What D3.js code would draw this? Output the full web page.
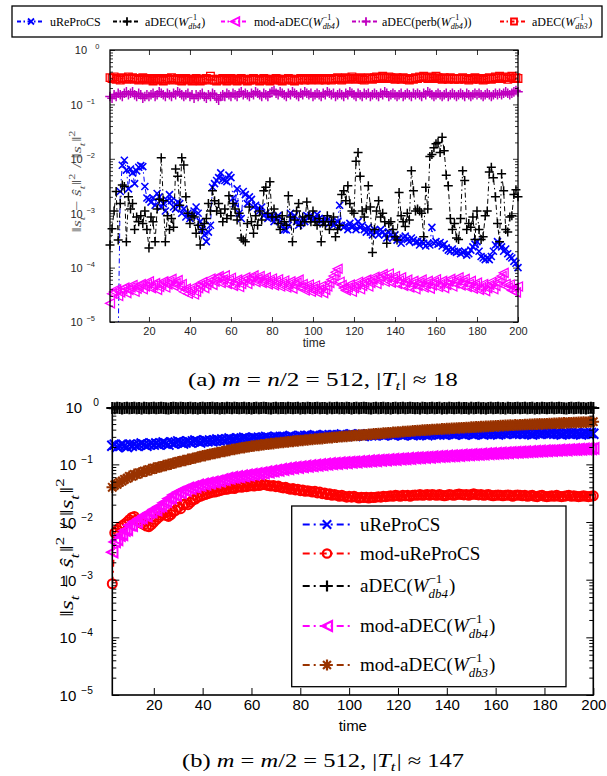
<!DOCTYPE html>
<html><head><meta charset="utf-8">
<script src="https://cdn.jsdelivr.net/npm/d3@7"></script>
<style>body{margin:0;background:#fff}svg{display:block}text{white-space:pre}</style>
</head><body>
<svg id="chart" width="607" height="776"></svg>
<script>
// ---------------- DATA ----------------
const timeA = d3.range(1, 201);          // panel (a): t = 1..200
const timeB = d3.range(3, 201);          // panel (b): t = 3..200
const xTickValues = [20,40,60,80,100,120,140,160,180,200];
const yMajorExps = [0,-1,-2,-3,-4,-5];

// panel (a)
const a_uReProCS = [null,null,null,null,5e-6,2.5e-3,7.6e-3,9.4e-3,6.2e-3,2.8e-3,
6.5e-3,5.5e-3,3.5e-3,6.0e-3,7.0e-3,7.5e-3,7.2e-3,3.1e-3,1.9e-3,1.8e-3,
1.6e-3,1.9e-3,1.4e-3,2.3e-3,2.0e-3,1.3e-3,1.5e-3,1.1e-3,1.7e-3,2.2e-3,
1.7e-3,1.3e-3,1.2e-3,1.6e-3,1.5e-3,1.0e-3,1.2e-3,8.5e-4,1.0e-3,8.0e-4,
9.0e-4,1.1e-3,1.3e-3,1.0e-3,7.0e-4,5.0e-4,4.0e-4,3.0e-4,4.5e-4,6.0e-4,
3.0e-3,3.5e-3,4.0e-3,4.5e-3,5.5e-3,4.2e-3,4.0e-3,3.8e-3,5.0e-3,4.5e-3,
1.9e-3,1.5e-3,2.8e-3,1.0e-3,8.0e-4,2.5e-3,2.2e-3,1.5e-3,2.0e-3,1.8e-3,
1.3e-3,1.4e-3,1.2e-3,1.1e-3,1.3e-3,9.0e-4,1.0e-3,8.0e-4,9.0e-4,8.5e-4,
7.0e-4,8.0e-4,9.0e-4,7.0e-4,6.0e-4,5.0e-4,4.9e-4,6.0e-4,1.0e-3,8.0e-4,
9.0e-4,7.0e-4,6.0e-4,6.5e-4,8.0e-4,7.0e-4,9.0e-4,8.5e-4,9.0e-4,7.5e-4,
8.0e-4,9.5e-4,8.0e-4,7.0e-4,6.5e-4,8.0e-4,7.5e-4,6.5e-4,7.0e-4,6.0e-4,
6.5e-4,7.0e-4,1.4e-3,6.0e-4,5.5e-4,6.0e-4,5.0e-4,6.5e-4,5.5e-4,6.0e-4,
5.0e-4,7.0e-4,5.5e-4,6.0e-4,5.0e-4,4.5e-4,5.5e-4,4.5e-4,4.0e-4,5.0e-4,
4.5e-4,4.0e-4,5.0e-4,4.5e-4,4.0e-4,3.5e-4,4.5e-4,4.0e-4,3.5e-4,4.0e-4,
3.2e-4,3.5e-4,2.8e-4,3.5e-4,3.8e-4,3.3e-4,3.0e-4,3.5e-4,3.2e-4,2.9e-4,
3.0e-4,2.6e-4,3.0e-4,2.8e-4,2.5e-4,2.8e-4,2.6e-4,5.5e-4,2.8e-4,3.0e-4,
2.7e-4,2.9e-4,2.5e-4,2.7e-4,2.3e-4,2.1e-4,2.0e-4,2.2e-4,2.0e-4,1.9e-4,
2.0e-4,1.8e-4,1.9e-4,2.0e-4,1.7e-4,1.8e-4,2.1e-4,2.4e-4,2.7e-4,3.0e-4,
2.0e-4,1.6e-4,1.5e-4,1.4e-4,1.5e-4,1.4e-4,1.6e-4,2.0e-4,2.6e-4,3.0e-4,
2.6e-4,2.4e-4,2.0e-4,2.2e-4,1.8e-4,1.6e-4,1.5e-4,1.3e-4,1.2e-4,1.0e-4];

const a_aDEC_db4 = [2.6e-4,5.2e-4,1.1e-3,2.5e-3,3.2e-4,1.5e-3,3.3e-3,3.1e-3,3.0e-4,2.0e-3,
1.2e-3,1.5e-3,5.0e-4,8.5e-4,7.0e-4,9.0e-4,6.5e-4,1.1e-3,5.0e-4,2.3e-4,
8.5e-4,7.0e-4,3.0e-4,1.2e-3,1.8e-3,1.05e-2,1.7e-3,3.0e-4,9.0e-4,5.0e-4,
8.0e-4,5.5e-4,6.5e-3,4.8e-3,1.4e-3,1.05e-2,7.7e-3,2.0e-3,1.0e-3,6.5e-4,
9.0e-4,8.5e-4,4.3e-4,6.0e-4,2.6e-4,5.0e-4,6.5e-4,8.0e-4,1.5e-3,1.1e-3,
2.6e-3,1.7e-3,1.1e-3,1.5e-3,1.0e-3,7.0e-4,1.2e-3,8.0e-4,2.1e-3,9.0e-4,
1.5e-3,1.2e-3,7.5e-4,1.0e-3,3.5e-4,3.2e-4,3.0e-4,6.5e-4,1.3e-3,7.0e-4,
4.3e-4,9.0e-4,6.0e-4,1.1e-3,7.5e-4,2.6e-3,3.0e-3,1.0e-3,3.8e-3,8.5e-4,
1.2e-3,8.5e-4,6.5e-4,5.0e-4,9.0e-4,7.0e-4,6.0e-4,2.1e-3,8.5e-4,3.0e-4,
7.5e-4,1.1e-3,1.5e-3,6.0e-4,8.5e-4,7.0e-4,1.6e-3,9.0e-4,7.0e-4,1.1e-3,
7.0e-4,6.0e-4,8.0e-4,3.0e-4,7.0e-4,6.0e-4,9.0e-4,5.0e-4,7.0e-4,8.5e-4,
3.7e-4,5.0e-4,6.0e-4,2.2e-3,2.6e-3,1.7e-3,3.2e-3,1.5e-3,1.1e-3,1.0e-3,
9.0e-3,1.3e-2,4.8e-3,1.1e-3,8.5e-4,1.2e-3,3.2e-3,1.3e-3,1.9e-4,5.0e-4,
1.1e-3,1.7e-3,8.5e-4,1.0e-3,7.0e-4,2.8e-4,6.5e-4,7.0e-4,5.0e-4,3.7e-4,
3.2e-4,2.4e-3,9.0e-4,7.0e-4,5.7e-4,1.0e-3,7.5e-4,6.0e-3,2.6e-3,1.1e-3,
1.2e-3,1.1e-3,1.0e-3,3.7e-4,3.0e-3,1.2e-3,1.1e-2,1.2e-2,1.6e-2,1.9e-2,
2.0e-2,1.3e-2,2.5e-2,1.4e-2,5.0e-3,3.2e-3,8.0e-4,5.0e-4,6.5e-4,3.5e-4,
3.3e-4,8.0e-4,6.0e-3,4.0e-3,5.0e-4,6.5e-4,5.5e-4,8.5e-4,3.3e-4,1.1e-3,
5.0e-4,3.3e-4,3.7e-4,9.0e-4,1.1e-3,5.7e-3,7.0e-3,4.5e-3,2.0e-3,6.5e-4,
3.0e-4,5.3e-3,2.6e-3,5.0e-4,4.5e-4,8.5e-4,9.0e-4,2.2e-3,2.7e-3,2.0e-3];

const a_mod_aDEC_db4 = [2.2e-5,3.3e-5,3.6e-5,4.0e-5,3.0e-5,3.5e-5,4.0e-5,4.3e-5,3.4e-5,3.9e-5,
4.3e-5,4.8e-5,3.6e-5,4.1e-5,4.6e-5,5.0e-5,4.0e-5,4.5e-5,5.0e-5,5.6e-5,
4.2e-5,4.7e-5,5.2e-5,3.9e-5,4.4e-5,5.0e-5,5.6e-5,4.3e-5,4.9e-5,5.5e-5,
6.2e-5,4.6e-5,5.2e-5,5.9e-5,4.5e-5,5.0e-5,3.6e-5,4.1e-5,3.3e-5,3.8e-5,
4.3e-5,3.2e-5,3.6e-5,4.2e-5,4.8e-5,5.4e-5,4.2e-5,4.8e-5,5.5e-5,6.3e-5,
4.8e-5,5.5e-5,6.4e-5,7.0e-5,5.2e-5,6.0e-5,7.2e-5,5.0e-5,5.8e-5,6.5e-5,
4.6e-5,5.3e-5,6.0e-5,4.4e-5,5.0e-5,5.8e-5,6.6e-5,5.0e-5,5.7e-5,6.5e-5,
7.2e-5,5.4e-5,6.2e-5,7.0e-5,5.2e-5,5.9e-5,6.6e-5,4.9e-5,5.6e-5,6.3e-5,
4.7e-5,5.4e-5,6.1e-5,4.5e-5,5.1e-5,5.8e-5,4.3e-5,4.9e-5,5.6e-5,4.1e-5,
4.7e-5,5.3e-5,6.0e-5,4.4e-5,5.0e-5,3.8e-5,4.3e-5,4.9e-5,3.6e-5,4.1e-5,
4.7e-5,3.5e-5,4.0e-5,4.6e-5,3.4e-5,3.9e-5,4.5e-5,5.2e-5,6.0e-5,7.0e-5,
8.2e-5,9.5e-5,5.5e-5,4.8e-5,4.2e-5,3.8e-5,4.3e-5,4.9e-5,3.6e-5,4.2e-5,
4.8e-5,5.5e-5,4.0e-5,4.6e-5,5.3e-5,6.0e-5,4.5e-5,5.2e-5,6.0e-5,6.8e-5,
5.0e-5,5.8e-5,6.7e-5,7.6e-5,5.5e-5,6.5e-5,7.8e-5,5.3e-5,6.2e-5,7.0e-5,
5.0e-5,5.8e-5,6.6e-5,4.6e-5,5.3e-5,6.0e-5,4.3e-5,5.0e-5,5.7e-5,4.0e-5,
4.6e-5,5.3e-5,6.0e-5,4.3e-5,5.0e-5,5.7e-5,4.1e-5,4.7e-5,5.4e-5,6.1e-5,
4.4e-5,5.0e-5,5.7e-5,4.2e-5,4.8e-5,5.5e-5,6.2e-5,4.5e-5,5.1e-5,5.8e-5,
6.6e-5,4.7e-5,5.4e-5,6.2e-5,4.4e-5,5.0e-5,5.7e-5,4.1e-5,4.7e-5,5.3e-5,
3.9e-5,4.4e-5,5.0e-5,3.7e-5,4.2e-5,4.8e-5,5.5e-5,4.0e-5,4.6e-5,5.3e-5,
6.1e-5,7.0e-5,8.0e-5,5.0e-5,4.3e-5,4.9e-5,3.8e-5,4.3e-5,3.5e-5,4.5e-5];

const a_aDEC_perb = [0.14,0.13,0.15,0.14,0.16,0.15,0.14,0.16,0.17,0.15,
0.16,0.17,0.15,0.14,0.16,0.15,0.13,0.14,0.15,0.14,
0.15,0.16,0.14,0.15,0.17,0.16,0.15,0.14,0.16,0.15,
0.14,0.16,0.15,0.17,0.16,0.15,0.14,0.15,0.16,0.14,
0.15,0.13,0.15,0.14,0.15,0.16,0.14,0.13,0.15,0.14,
0.16,0.15,0.13,0.12,0.14,0.15,0.14,0.16,0.15,0.14,
0.16,0.15,0.14,0.16,0.17,0.15,0.16,0.15,0.14,0.16,
0.15,0.17,0.16,0.15,0.14,0.16,0.15,0.14,0.16,0.17,
0.18,0.16,0.15,0.17,0.16,0.15,0.14,0.16,0.15,0.17,
0.16,0.15,0.14,0.16,0.15,0.17,0.16,0.15,0.16,0.14,
0.15,0.16,0.15,0.14,0.16,0.15,0.17,0.16,0.15,0.16,
0.14,0.15,0.16,0.15,0.14,0.16,0.15,0.17,0.16,0.15,
0.14,0.16,0.15,0.14,0.16,0.15,0.16,0.14,0.15,0.16,
0.15,0.14,0.16,0.15,0.17,0.16,0.14,0.15,0.16,0.15,
0.14,0.15,0.16,0.14,0.15,0.16,0.15,0.14,0.16,0.15,
0.16,0.15,0.14,0.16,0.15,0.17,0.16,0.15,0.14,0.15,
0.16,0.15,0.14,0.15,0.16,0.14,0.15,0.16,0.15,0.14,
0.15,0.16,0.15,0.14,0.16,0.15,0.14,0.15,0.16,0.15,
0.16,0.15,0.14,0.15,0.16,0.15,0.14,0.15,0.16,0.15,
0.16,0.15,0.16,0.17,0.16,0.15,0.16,0.17,0.18,0.17];

const a_aDEC_db3 = [0.31,0.30,0.32,0.29,0.30,0.28,0.31,0.30,0.29,0.32,
0.30,0.31,0.29,0.30,0.28,0.29,0.31,0.30,0.28,0.29,
0.30,0.27,0.29,0.28,0.30,0.29,0.27,0.28,0.30,0.29,
0.31,0.28,0.29,0.30,0.28,0.27,0.29,0.30,0.28,0.29,
0.27,0.28,0.30,0.29,0.27,0.28,0.29,0.30,0.28,0.33,
0.29,0.28,0.27,0.29,0.28,0.30,0.29,0.27,0.28,0.30,
0.29,0.28,0.27,0.29,0.30,0.28,0.29,0.27,0.28,0.29,
0.30,0.28,0.29,0.27,0.28,0.30,0.29,0.28,0.27,0.29,
0.28,0.30,0.29,0.28,0.27,0.29,0.28,0.30,0.29,0.28,
0.27,0.29,0.28,0.30,0.29,0.28,0.30,0.29,0.28,0.29,
0.30,0.29,0.28,0.30,0.29,0.28,0.29,0.30,0.28,0.29,
0.30,0.31,0.29,0.28,0.30,0.31,0.29,0.30,0.32,0.30,
0.29,0.30,0.31,0.29,0.28,0.30,0.31,0.30,0.29,0.31,
0.32,0.30,0.31,0.33,0.31,0.30,0.32,0.31,0.30,0.29,
0.31,0.30,0.29,0.31,0.30,0.29,0.28,0.30,0.29,0.31,
0.30,0.32,0.31,0.33,0.31,0.30,0.31,0.32,0.30,0.33,
0.31,0.30,0.29,0.31,0.30,0.29,0.31,0.30,0.29,0.30,
0.29,0.30,0.31,0.29,0.30,0.28,0.30,0.29,0.31,0.30,
0.29,0.30,0.28,0.29,0.30,0.31,0.29,0.30,0.32,0.31,
0.33,0.30,0.31,0.32,0.29,0.31,0.33,0.30,0.31,0.30];

// panel (b)
const b_uReProCS = [0.21,0.22,0.20,0.21,0.22,0.21,0.20,0.22,0.21,0.22,
0.21,0.22,0.23,0.22,0.21,0.22,0.23,0.22,0.23,0.22,
0.23,0.24,0.23,0.22,0.24,0.23,0.24,0.25,0.24,0.23,
0.24,0.25,0.24,0.25,0.26,0.25,0.24,0.25,0.26,0.25,
0.26,0.25,0.26,0.27,0.26,0.27,0.26,0.27,0.28,0.27,
0.27,0.28,0.27,0.28,0.29,0.28,0.27,0.28,0.29,0.28,
0.29,0.28,0.29,0.30,0.29,0.28,0.29,0.30,0.29,0.30,
0.30,0.29,0.30,0.31,0.30,0.29,0.30,0.31,0.30,0.31,
0.31,0.30,0.31,0.32,0.31,0.30,0.31,0.32,0.31,0.32,
0.31,0.32,0.31,0.32,0.33,0.32,0.31,0.32,0.33,0.32,
0.32,0.33,0.32,0.31,0.32,0.33,0.32,0.33,0.32,0.33,
0.33,0.32,0.33,0.34,0.33,0.32,0.33,0.34,0.33,0.32,
0.33,0.34,0.33,0.32,0.33,0.34,0.33,0.34,0.33,0.32,
0.33,0.34,0.35,0.34,0.33,0.34,0.33,0.34,0.35,0.34,
0.33,0.34,0.35,0.34,0.33,0.34,0.35,0.34,0.33,0.34,
0.35,0.34,0.33,0.34,0.35,0.34,0.35,0.34,0.33,0.34,
0.35,0.34,0.35,0.36,0.35,0.34,0.35,0.34,0.35,0.34,
0.35,0.34,0.33,0.34,0.35,0.34,0.35,0.36,0.35,0.34,
0.35,0.34,0.35,0.34,0.33,0.34,0.35,0.34,0.35,0.34,
0.35,0.34,0.33,0.34,0.35,0.34,0.35,0.34];

const b_mod_uReProCS = [0.00085,0.0065,0.0072,0.0080,0.0086,0.0092,0.0100,0.0110,0.0120,0.0125,
0.0110,0.0100,0.0095,0.0090,0.0085,0.0083,0.0090,0.0100,0.0110,0.0120,
0.0130,0.0140,0.0130,0.0125,0.0135,0.0150,0.0160,0.0180,0.0170,0.0200,
0.0210,0.0200,0.0220,0.0240,0.0250,0.0270,0.0280,0.0290,0.0300,0.0310,
0.0320,0.0330,0.0330,0.0340,0.0350,0.0360,0.0370,0.0370,0.0380,0.0390,
0.0380,0.0400,0.0410,0.0400,0.0420,0.0410,0.0420,0.0430,0.0420,0.0440,
0.0430,0.0440,0.0450,0.0440,0.0430,0.0420,0.0430,0.0410,0.0420,0.0400,
0.0390,0.0400,0.0380,0.0370,0.0380,0.0360,0.0370,0.0350,0.0360,0.0340,
0.0350,0.0340,0.0330,0.0340,0.0320,0.0330,0.0310,0.0320,0.0300,0.0310,
0.0290,0.0300,0.0290,0.0280,0.0290,0.0280,0.0270,0.0280,0.0270,0.0280,
0.0270,0.0260,0.0270,0.0265,0.0270,0.0260,0.0270,0.0265,0.0270,0.0275,
0.0270,0.0280,0.0275,0.0280,0.0285,0.0280,0.0290,0.0285,0.0280,0.0290,
0.0285,0.0290,0.0280,0.0290,0.0295,0.0290,0.0300,0.0290,0.0295,0.0300,
0.0290,0.0300,0.0295,0.0290,0.0300,0.0290,0.0285,0.0290,0.0300,0.0295,
0.0290,0.0300,0.0305,0.0300,0.0295,0.0300,0.0290,0.0300,0.0310,0.0300,
0.0295,0.0300,0.0290,0.0295,0.0300,0.0290,0.0285,0.0290,0.0295,0.0290,
0.0285,0.0290,0.0295,0.0290,0.0280,0.0290,0.0295,0.0290,0.0285,0.0290,
0.0280,0.0285,0.0290,0.0280,0.0275,0.0285,0.0290,0.0280,0.0275,0.0280,
0.0285,0.0280,0.0290,0.0280,0.0275,0.0280,0.0285,0.0290,0.0280,0.0285,
0.0280,0.0275,0.0280,0.0285,0.0280,0.0275,0.0280,0.0285];

const b_aDEC_db4 = [0.95,0.94,0.96,0.95,0.93,0.95,0.96,0.94,0.95,0.96,
0.94,0.95,0.93,0.96,0.95,0.94,0.95,0.96,0.94,0.95,
0.96,0.95,0.94,0.93,0.95,0.96,0.95,0.94,0.96,0.95,
0.94,0.95,0.96,0.94,0.95,0.93,0.95,0.96,0.94,0.95,
0.95,0.96,0.94,0.95,0.93,0.95,0.94,0.96,0.95,0.94,
0.96,0.95,0.94,0.95,0.96,0.94,0.95,0.93,0.95,0.96,
0.94,0.95,0.96,0.95,0.94,0.93,0.95,0.96,0.94,0.95,
0.95,0.94,0.96,0.95,0.94,0.95,0.96,0.93,0.95,0.94,
0.96,0.95,0.94,0.95,0.96,0.94,0.95,0.95,0.93,0.96,
0.94,0.95,0.96,0.94,0.95,0.94,0.96,0.95,0.93,0.95,
0.96,0.94,0.95,0.96,0.95,0.94,0.93,0.95,0.96,0.94,
0.95,0.96,0.94,0.95,0.93,0.95,0.96,0.94,0.95,0.96,
0.94,0.95,0.96,0.95,0.94,0.95,0.93,0.96,0.95,0.94,
0.95,0.96,0.94,0.95,0.96,0.93,0.95,0.94,0.96,0.95,
0.94,0.95,0.96,0.94,0.95,0.95,0.93,0.96,0.94,0.95,
0.96,0.94,0.95,0.93,0.95,0.96,0.94,0.95,0.96,0.94,
0.95,0.93,0.96,0.95,0.94,0.95,0.96,0.94,0.95,0.96,
0.94,0.95,0.96,0.93,0.95,0.94,0.96,0.95,0.94,0.95,
0.96,0.94,0.95,0.96,0.95,0.94,0.93,0.95,0.96,0.94,
0.95,0.96,0.94,0.95,0.93,0.95,0.96,0.95];

const b_mod_aDEC_db4 = [0.0030,0.0045,0.0049,0.0058,0.0060,0.0071,0.0073,0.0088,0.0086,0.0102,
0.0098,0.0115,0.0118,0.0130,0.0126,0.0145,0.0148,0.0165,0.0160,0.0185,
0.0190,0.0215,0.0225,0.0255,0.0262,0.0295,0.0290,0.0330,0.0320,0.0360,
0.0350,0.0390,0.0380,0.0410,0.0400,0.0440,0.0430,0.0460,0.0450,0.0480,
0.0470,0.0500,0.0490,0.0520,0.0510,0.0550,0.0540,0.0580,0.0570,0.0600,
0.0590,0.0620,0.0605,0.0640,0.0625,0.0660,0.0645,0.0680,0.0665,0.0700,
0.0685,0.0720,0.0705,0.0750,0.0730,0.0770,0.0760,0.0800,0.0785,0.0830,
0.0810,0.0850,0.0835,0.0880,0.0860,0.0900,0.0880,0.0920,0.0900,0.0940,
0.0920,0.0960,0.0940,0.0980,0.0960,0.1000,0.0980,0.1020,0.1000,0.1040,
0.1020,0.1050,0.1030,0.1070,0.1050,0.1080,0.1060,0.1100,0.1080,0.1110,
0.1090,0.1130,0.1110,0.1140,0.1120,0.1160,0.1140,0.1170,0.1150,0.1190,
0.1170,0.1200,0.1180,0.1220,0.1200,0.1230,0.1210,0.1250,0.1230,0.1260,
0.1240,0.1280,0.1260,0.1300,0.1280,0.1310,0.1290,0.1330,0.1310,0.1340,
0.1320,0.1360,0.1340,0.1380,0.1360,0.1390,0.1370,0.1410,0.1390,0.1420,
0.1400,0.1440,0.1420,0.1460,0.1440,0.1470,0.1450,0.1490,0.1470,0.1500,
0.1480,0.1520,0.1500,0.1540,0.1520,0.1550,0.1530,0.1570,0.1550,0.1580,
0.1560,0.1600,0.1580,0.1620,0.1600,0.1630,0.1610,0.1650,0.1630,0.1660,
0.1640,0.1680,0.1660,0.1700,0.1680,0.1710,0.1690,0.1730,0.1710,0.1740,
0.1720,0.1760,0.1740,0.1780,0.1760,0.1790,0.1770,0.1810,0.1790,0.1820,
0.1800,0.1840,0.1820,0.1860,0.1840,0.1870,0.1850,0.1890];

const b_mod_aDEC_db3 = [0.040,0.044,0.045,0.049,0.051,0.055,0.057,0.062,0.062,0.067,
0.067,0.071,0.072,0.076,0.076,0.081,0.081,0.086,0.086,0.090,
0.091,0.095,0.096,0.100,0.101,0.105,0.107,0.111,0.112,0.117,
0.117,0.122,0.123,0.128,0.129,0.134,0.136,0.141,0.142,0.147,
0.149,0.153,0.155,0.160,0.161,0.167,0.168,0.173,0.175,0.181,
0.182,0.187,0.189,0.194,0.195,0.200,0.202,0.207,0.208,0.213,
0.213,0.218,0.219,0.223,0.224,0.229,0.229,0.234,0.235,0.239,
0.240,0.244,0.245,0.249,0.250,0.255,0.255,0.260,0.260,0.265,
0.265,0.270,0.270,0.275,0.275,0.280,0.280,0.285,0.286,0.290,
0.291,0.295,0.296,0.301,0.301,0.306,0.306,0.311,0.312,0.316,
0.317,0.321,0.322,0.327,0.327,0.332,0.333,0.338,0.338,0.343,
0.343,0.348,0.349,0.354,0.354,0.359,0.360,0.365,0.365,0.370,
0.371,0.376,0.376,0.381,0.382,0.387,0.387,0.392,0.392,0.397,
0.397,0.402,0.402,0.407,0.407,0.412,0.412,0.417,0.417,0.422,
0.422,0.427,0.427,0.432,0.432,0.437,0.437,0.442,0.442,0.447,
0.447,0.452,0.451,0.456,0.456,0.461,0.461,0.466,0.465,0.470,
0.470,0.475,0.474,0.479,0.478,0.483,0.482,0.487,0.486,0.491,
0.490,0.495,0.494,0.499,0.498,0.503,0.502,0.507,0.506,0.511,
0.510,0.516,0.514,0.520,0.518,0.524,0.522,0.528,0.526,0.532,
0.530,0.536,0.534,0.540,0.538,0.544,0.542,0.550];

// ---------------- DRAWING ----------------
const svg = d3.select("#chart");
const SERIF = "'Liberation Serif','DejaVu Serif',serif";
const SANS = "'Liberation Sans',Arial,sans-serif";
const nb = s => s.replace(/ /g, "\u00A0");

function markerPath(type, r) {
  switch (type) {
    case "x": return `M${-r},${-r}L${r},${r}M${-r},${r}L${r},${-r}`;
    case "+": return `M${-r},0H${r}M0,${-r}V${r}`;
    case "*": { const k = r*0.72; return `M${-r},0H${r}M0,${-r}V${r}M${-k},${-k}L${k},${k}M${-k},${k}L${k},${-k}`; }
    case "s": return `M${-r},${-r}H${r}V${r}H${-r}Z`;
    case "o": return `M${r},0A${r},${r} 0 1,1 ${-r},0A${r},${r} 0 1,1 ${r},0Z`;
    case "<": return `M${-r},0L${r},${-r}L${r},${r}Z`;
  }
}

// rich text: parts = [{t, i}, {sup, sub}]
function rich(parent, x, y, size, parts, fill, family, subOff) {
  const g = parent.append("g").attr("fill", fill || "#000").attr("font-family", family || SERIF);
  let cx = x;
  const so = subOff === undefined ? 0.3 : subOff;
  parts.forEach(p => {
    if (p.t !== undefined) {
      const e = g.append("text").attr("x", cx).attr("y", y).attr("font-size", size)
        .attr("font-style", p.i ? "italic" : "normal").text(nb(p.t));
      cx += e.node().getComputedTextLength();
    } else {
      let w = 0;
      if (p.sup !== undefined) {
        const e = g.append("text").attr("x", cx).attr("y", y - size*0.46).attr("font-size", size*0.68)
          .text(p.sup);
        w = Math.max(w, e.node().getComputedTextLength());
      }
      if (p.sub !== undefined) {
        const e = g.append("text").attr("x", cx).attr("y", y + size*so).attr("font-size", size*0.68)
          .attr("font-style", "italic").text(p.sub);
        w = Math.max(w, e.node().getComputedTextLength());
      }
      cx += w + size*0.05;
    }
  });
  return { g, width: cx - x };
}
function richCentered(parent, cx, y, size, parts, fill, family, target, subOff) {
  const r = rich(parent, 0, y, size, parts, fill, family, subOff);
  if (target) {
    r.g.attr("transform", `translate(${cx - target/2},0) scale(${target / r.width},1)`);
  } else {
    r.g.attr("transform", `translate(${cx - r.width/2},0)`);
  }
  return r;
}

const W = (sub) => [{t:"W", i:true}, {sup:"\u22121", sub:sub}];
const labelParts = {
  uReProCS: [{t:"uReProCS"}],
  modu: [{t:"mod-uReProCS"}],
  aDEC4: [{t:"aDEC("}, ...W("db4"), {t:")"}],
  mod4: [{t:"mod-aDEC("}, ...W("db4"), {t:")"}],
  perb: [{t:"aDEC(perb("}, ...W("db4"), {t:"))"}],
  aDEC3: [{t:"aDEC("}, ...W("db3"), {t:")"}],
  mod3: [{t:"mod-aDEC("}, ...W("db3"), {t:")"}]
};

function panel(p) {
  const g = svg.append("g");
  const x = d3.scaleLinear().domain(p.xDomain).range([p.left, p.right]);
  const y = d3.scaleLog().domain([1e-5, 1]).range([p.bottom, p.top]);
  const clipId = "clip-" + p.id;
  svg.append("defs").append("clipPath").attr("id", clipId).append("rect")
    .attr("x", p.left).attr("y", p.top).attr("width", p.right - p.left).attr("height", p.bottom - p.top);

  p.series.forEach(s => {
    const pts = p.time.map((t, i) => ({ t, v: s.values[i] })).filter(d => d.v != null);
    const line = d3.line().x(d => x(d.t)).y(d => y(d.v));
    g.append("path").datum(pts).attr("d", line).attr("fill", "none").attr("stroke", s.color)
      .attr("stroke-width", p.lw).attr("stroke-dasharray", p.dash).attr("clip-path", `url(#${clipId})`);
    const inR = pts.filter(d => d.v >= 1e-5 && d.v <= 1.05);
    g.append("g").selectAll("path").data(inR).enter().append("path")
      .attr("transform", d => `translate(${x(d.t)},${y(d.v)})`)
      .attr("d", markerPath(s.marker, s.r)).attr("fill", "none")
      .attr("stroke", s.color).attr("stroke-width", s.mw || p.mw);
  });

  // axes
  const ax = svg.append("g");
  const xb = ax.append("g").attr("transform", `translate(0,${p.bottom})`)
    .call(d3.axisBottom(x).tickValues(xTickValues).tickSizeInner(-p.tlMaj).tickSizeOuter(0).tickPadding(p.xPad));
  const xt = ax.append("g").attr("transform", `translate(0,${p.top})`)
    .call(d3.axisTop(x).tickValues(xTickValues).tickSizeInner(-p.tlMaj).tickSizeOuter(0).tickFormat(""));
  const yVals = [];
  yMajorExps.forEach(e => {
    yVals.push(Math.pow(10, e));
    if (e < 0) for (let m = 2; m <= 9; m++) yVals.push(m * Math.pow(10, e));
  });
  const isMajor = v => Math.abs(Math.log10(v) - Math.round(Math.log10(v))) < 1e-9;
  const yl = ax.append("g").attr("transform", `translate(${p.left},0)`)
    .call(d3.axisLeft(y).tickValues(yVals).tickSizeOuter(0).tickPadding(p.yPad).tickFormat(() => ""));
  const yr = ax.append("g").attr("transform", `translate(${p.right},0)`)
    .call(d3.axisRight(y).tickValues(yVals).tickSizeOuter(0).tickFormat(() => ""));
  yl.selectAll(".tick line").attr("x2", d => isMajor(d) ? p.tlMaj : p.tlMin);
  yr.selectAll(".tick line").attr("x2", d => isMajor(d) ? -p.tlMaj : -p.tlMin);
  [xb, xt, yl, yr].forEach(a => {
    a.select(".domain").remove();
    a.selectAll(".tick line").attr("stroke", "#000").attr("stroke-width", p.tw);
  });
  xb.attr("font-family", SANS).attr("font-size", p.fs);
  xb.selectAll(".tick text").attr("fill", p.tc);
  // y labels 10^k
  yl.selectAll(".tick").filter(d => isMajor(d)).each(function(d) {
    const e = Math.round(Math.log10(d));
    const txt = e === 0 ? "0" : "\u2212" + (-e);
    const r = rich(d3.select(this), 0, 0, p.fs, [{t:"10"}, {sup: txt}], p.tc, SANS);
    r.g.attr("transform", `translate(${-p.yPad - r.width},${p.fs*0.36})`);
  });
  ax.append("rect").attr("x", p.left).attr("y", p.top).attr("width", p.right - p.left)
    .attr("height", p.bottom - p.top).attr("fill", "none").attr("stroke", "#000").attr("stroke-width", p.aw);

  // x label
  svg.append("text").attr("x", (p.left + p.right)/2).attr("y", p.xlabY).attr("text-anchor", "middle")
    .attr("font-family", SANS).attr("font-size", p.xlfs).attr("fill", p.tc).text("time");
  // y label (rotated)
  const yg = svg.append("g").attr("transform", `translate(${p.ylabX},${p.ylabY}) rotate(-90)`);
  const ylab = [{t:"\u2016"}, {t:"s", i:true}, {sub:"t"}, {t:" \u2212 "}, {t:"\u015D", i:true}, {sub:"t"},
    {t:"\u2016"}, {sup:"2"}, {t:" / \u2016"}, {t:"s", i:true}, {sub:"t"}, {t:"\u2016"}, {sup:"2"}];
  richCentered(yg, 0, 0, p.ylfs, ylab, p.ylc, SERIF, p.ylLen);
  return { x, y };
}

// ---------- Panel (a) ----------
panel({
  id: "a", time: timeA, xDomain: [1, 200],
  left: 110, right: 518, top: 50, bottom: 322,
  lw: 1, mw: 1.3, dash: "5,3,1.5,3",
  tlMaj: 5, tlMin: 3, tw: 0.8, aw: 1.3, fs: 11, xPad: 5, yPad: 6, tc: "#262626",
  xlabY: 347, xlfs: 12, ylabX: 81, ylabY: 181, ylfs: 13, ylLen: 103, ylc: "#555",
  series: [
    { values: a_uReProCS, color: "#0000ff", marker: "x", r: 3.5, mw: 1.6 },
    { values: a_aDEC_db4, color: "#000000", marker: "+", r: 4.5, mw: 1.5 },
    { values: a_mod_aDEC_db4, color: "#ff00ff", marker: "<", r: 4.5 },
    { values: a_aDEC_perb, color: "#bf00bf", marker: "+", r: 4.8, mw: 1.5 },
    { values: a_aDEC_db3, color: "#ff0000", marker: "s", r: 3.8 }
  ]
});

// ---------- Panel (b) ----------
panel({
  id: "b", time: timeB, xDomain: [3, 200],
  left: 112.3, right: 593.3, top: 406.7, bottom: 695,
  lw: 2, mw: 1.8, dash: "7,4,2,4",
  tlMaj: 7, tlMin: 4, tw: 1, aw: 1.6, fs: 15, xPad: 4, yPad: 7, tc: "#000",
  xlabY: 731, xlfs: 15, ylabX: 73, ylabY: 547, ylfs: 19, ylLen: 140, ylc: "#000",
  series: [
    { values: b_uReProCS, color: "#0000ff", marker: "x", r: 5, mw: 2 },
    { values: b_mod_uReProCS, color: "#ff0000", marker: "o", r: 4.5, mw: 2 },
    { values: b_aDEC_db4, color: "#000000", marker: "+", r: 6, mw: 2.2 },
    { values: b_mod_aDEC_db4, color: "#ff00ff", marker: "<", r: 5.2, mw: 2 },
    { values: b_mod_aDEC_db3, color: "#993300", marker: "*", r: 5.8, mw: 2 }
  ]
});

// ---------- Top legend (panel a) ----------
const topLeg = svg.append("g");
topLeg.append("rect").attr("x", 12).attr("y", 6).attr("width", 590).attr("height", 31)
  .attr("fill", "#fff").attr("stroke", "#000").attr("stroke-width", 1.3);
const topEntries = [
  { ls: 17, tx: 50, color: "#0000ff", marker: "x", r: 3, label: labelParts.uReProCS },
  { ls: 113, tx: 145, color: "#000000", marker: "+", r: 4.3, label: labelParts.aDEC4 },
  { ls: 221, tx: 254, color: "#ff00ff", marker: "<", r: 4.3, label: labelParts.mod4 },
  { ls: 352, tx: 382, color: "#bf00bf", marker: "+", r: 4.3, label: labelParts.perb },
  { ls: 500, tx: 532, color: "#ff0000", marker: "s", r: 3, label: labelParts.aDEC3 }
];
topEntries.forEach(e => {
  const cy = 21.5;
  topLeg.append("line").attr("x1", e.ls).attr("x2", e.ls + 27).attr("y1", cy).attr("y2", cy)
    .attr("stroke", e.color).attr("stroke-width", 1.8).attr("stroke-dasharray", "4,2.5,1.5,2.5");
  topLeg.append("path").attr("transform", `translate(${e.ls + 14},${cy})`).attr("d", markerPath(e.marker, e.r))
    .attr("fill", "none").attr("stroke", e.color).attr("stroke-width", 1.8);
  rich(topLeg, e.tx, cy + 4, 12, e.label, "#000");
});

// ---------- Legend (panel b) ----------
const bLeg = svg.append("g");
bLeg.append("rect").attr("x", 291.7).attr("y", 506).attr("width", 274.3).attr("height", 180.7)
  .attr("fill", "#fff").attr("stroke", "#000").attr("stroke-width", 1.3);
const bEntries = [
  { cy: 524.5, color: "#0000ff", marker: "x", r: 4.2, label: labelParts.uReProCS },
  { cy: 553.5, color: "#ff0000", marker: "o", r: 4.2, label: labelParts.modu },
  { cy: 586, color: "#000000", marker: "+", r: 5.5, label: labelParts.aDEC4 },
  { cy: 626, color: "#ff00ff", marker: "<", r: 5, label: labelParts.mod4 },
  { cy: 665, color: "#993300", marker: "*", r: 5.5, label: labelParts.mod3 }
];
bEntries.forEach(e => {
  bLeg.append("line").attr("x1", 302.7).attr("x2", 350).attr("y1", e.cy).attr("y2", e.cy)
    .attr("stroke", e.color).attr("stroke-width", 2).attr("stroke-dasharray", "7,4,2,4");
  bLeg.append("path").attr("transform", `translate(327,${e.cy})`).attr("d", markerPath(e.marker, e.r))
    .attr("fill", "none").attr("stroke", e.color).attr("stroke-width", 2.2);
  rich(bLeg, 360, e.cy + 6, 19, e.label, "#000");
});

// ---------- Captions ----------
richCentered(svg, 323, 386, 19, [{t:"(a) "}, {t:"m", i:true}, {t:" = "}, {t:"n", i:true}, {t:"/2 = 512, |"},
  {t:"T", i:true}, {sub:"t"}, {t:"| \u2248 18"}], "#000", SERIF, 270, 0.22);
richCentered(svg, 323, 767, 19, [{t:"(b) "}, {t:"m", i:true}, {t:" = "}, {t:"m", i:true}, {t:"/2 = 512, |"},
  {t:"T", i:true}, {sub:"t"}, {t:"| \u2248 147"}], "#000", SERIF, 282, 0.22);
</script>
</body></html>
